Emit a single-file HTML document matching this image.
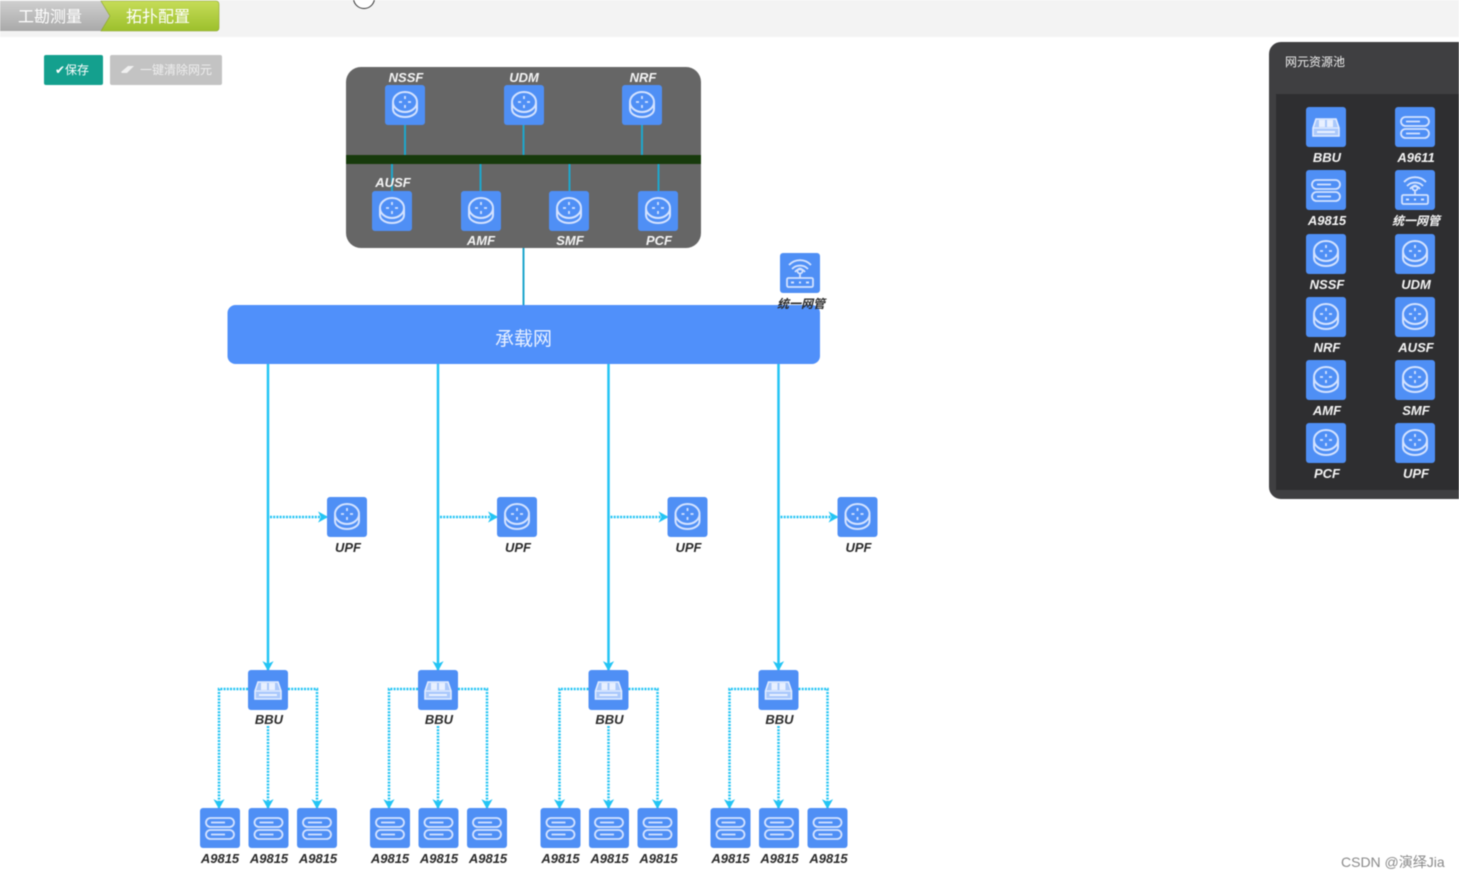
<!DOCTYPE html>
<html><head><meta charset="utf-8">
<style>
html,body{margin:0;padding:0;background:#fff;width:1459px;height:879px;overflow:hidden}
svg{display:block;font-family:"Liberation Sans","Noto Sans CJK SC",sans-serif;filter:blur(.45px)}
.l{font-size:13px;font-weight:bold;font-style:italic;text-anchor:middle}
.d{fill:#2a2a2a}
.w{fill:#f4f4f4}
.solid{stroke:#22c4f4;stroke-width:2.500;fill:none}
.dot{stroke:#22c4f4;stroke-width:2.500;stroke-dasharray:2 1.2;fill:none}
.thin{stroke:#1ea6cc;stroke-width:2;fill:none}
</style></head><body>
<svg width="1459" height="879" viewBox="0 0 1459 879" xmlns="http://www.w3.org/2000/svg">
<defs>
<linearGradient id="g1" x1="0" y1="0" x2="0" y2="1"><stop offset="0" stop-color="#cfcfcf"/><stop offset="1" stop-color="#a9a9a9"/></linearGradient>
<linearGradient id="g2" x1="0" y1="0" x2="0" y2="1"><stop offset="0" stop-color="#c6dc58"/><stop offset="1" stop-color="#9cc02c"/></linearGradient>
<symbol id="db" viewBox="0 0 40 40">
<rect width="40" height="40" rx="3" fill="#4f8ff5"/>
<g fill="none" stroke="#d3e2ff" stroke-width="2">
<ellipse cx="20" cy="17" rx="12" ry="10"/>
<path d="M8 18v6c0 5 6 8 12 8s12-3 12-8v-6"/>
</g>
<path d="M20 11v3M20 20v3M14 17h3M23 17h3" stroke="#d3e2ff" stroke-width="1.800"/>
</symbol>
<symbol id="srv" viewBox="0 0 40 40">
<rect width="40" height="40" rx="3" fill="#4f8ff5"/>
<g fill="none" stroke="#d3e2ff" stroke-width="1.800">
<rect x="6" y="10" width="28" height="9" rx="4.500"/>
<rect x="6" y="22" width="28" height="9" rx="4.500"/>
<path d="M11 14.500h14M11 26.500h14"/>
</g>
</symbol>
<symbol id="bbu" viewBox="0 0 40 40">
<rect width="40" height="40" rx="3" fill="#4f8ff5"/>
<path d="M10 12h20l3 9v8H7v-8z" fill="#a9c8fb" stroke="#e2ecff" stroke-width="1.600"/>
<path d="M13 13h6v7h-6zM21 13h6v7h-6z" fill="#e8f0ff"/>
<path d="M7 21h26" stroke="#e2ecff" stroke-width="1.300"/>
<path d="M11 25h18" stroke="#e8f0ff" stroke-width="2"/>
</symbol>
<symbol id="mg" viewBox="0 0 40 40">
<rect width="40" height="40" rx="3" fill="#4f8ff5"/>
<g fill="none" stroke="#d3e2ff" stroke-width="1.800">
<rect x="7" y="25" width="26" height="9" rx="1.500"/>
<path d="M12 16a11 11 0 0 1 16 0M9 12a15 15 0 0 1 22 0M15 19a6 6 0 0 1 10 0"/>
<circle cx="20" cy="18" r="2.500"/>
<path d="M20 20v5"/>
</g>
<path d="M11 29.500h3M26 29.500h3M19 29.500h2" stroke="#d3e2ff" stroke-width="2"/>
</symbol>
<marker id="a" viewBox="0 0 10 10" refX="8" refY="5" markerWidth="4.500" markerHeight="4.500" orient="auto">
<path d="M0 0L9 5L0 10L2.500 5z" fill="#22c4f4"/>
</marker>
<g id="cell">
<path class="solid" d="M41 0V306" marker-end="url(#a)"/>
<path class="dot" d="M43 153H100" marker-end="url(#a)"/>
<use href="#db" x="100" y="133" width="40" height="40"/>
<text class="l d" x="121" y="188">UPF</text>
<use href="#bbu" x="21" y="306" width="40" height="40"/>
<text class="l d" x="42" y="360">BBU</text>
<path class="dot" d="M21 325H-8V444" marker-end="url(#a)"/>
<path class="dot" d="M61 325H90V444" marker-end="url(#a)"/>
<path class="dot" d="M41 362V444" marker-end="url(#a)"/>
<use href="#srv" x="-27" y="444" width="40" height="40"/>
<use href="#srv" x="21.500" y="444" width="40" height="40"/>
<use href="#srv" x="70" y="444" width="40" height="40"/>
<text class="l d" x="-7" y="499">A9815</text>
<text class="l d" x="42" y="499">A9815</text>
<text class="l d" x="91" y="499">A9815</text>
</g>
</defs>

<rect x="0" y="0" width="1459" height="37" fill="#f3f3f3"/>
<circle cx="364" cy="-2" r="10.500" fill="#fff" stroke="#333" stroke-width="1"/>
<path d="M0 1H102L111 16L102 31H0z" fill="url(#g1)"/>
<path d="M101 1H216a3 3 0 0 1 3 3V28a3 3 0 0 1-3 3H101L110 16z" fill="url(#g2)" stroke="#8ba32c" stroke-width=".6"/>
<text x="18" y="22" font-size="16" fill="#fff">工勘测量</text>
<text x="126" y="22" font-size="16" fill="#fff">拓扑配置</text>

<rect x="44" y="55" width="59" height="30" rx="2" fill="#14a08e"/>
<text x="55" y="74" font-size="12" fill="#fff">✔保存</text>
<rect x="110" y="55" width="112" height="30" rx="2" fill="#c3c3c3"/>
<path d="M121 72l7-6h6l-7 7h-5z" fill="#f0f0f0"/>
<text x="140" y="74" font-size="12" fill="#eee">一键清除网元</text>

<rect x="346" y="67" width="355" height="181" rx="15" fill="#666"/>
<g class="thin">
<path d="M405 125V156M523.500 125V156M642 125V156M392 164V191M480.500 164V191M569.500 164V191M658.500 164V191M523.500 248V305"/>
</g>
<rect x="346" y="155" width="355" height="9" fill="#173a0c"/>
<use href="#db" x="385" y="85" width="40" height="40"/>
<use href="#db" x="504" y="85" width="40" height="40"/>
<use href="#db" x="622" y="85" width="40" height="40"/>
<use href="#db" x="372" y="191" width="40" height="40"/>
<use href="#db" x="461" y="191" width="40" height="40"/>
<use href="#db" x="549" y="191" width="40" height="40"/>
<use href="#db" x="638" y="191" width="40" height="40"/>
<text class="l w" x="406" y="82">NSSF</text>
<text class="l w" x="524" y="82">UDM</text>
<text class="l w" x="643" y="82">NRF</text>
<text class="l w" x="393" y="187">AUSF</text>
<text class="l w" x="481" y="245">AMF</text>
<text class="l w" x="570" y="245">SMF</text>
<text class="l w" x="659" y="245">PCF</text>

<rect x="227.500" y="305" width="592.500" height="59" rx="8" fill="#5090fa"/>
<text x="523.500" y="345" font-size="19" fill="#e8f0ff" text-anchor="middle">承载网</text>
<use href="#mg" x="780" y="253" width="40" height="40"/>
<text class="l d" x="801" y="308" style="font-size:12px">统一网管</text>

<use href="#cell" x="227" y="364"/>
<use href="#cell" x="397" y="364"/>
<use href="#cell" x="567.500" y="364"/>
<use href="#cell" x="737.500" y="364"/>

<path d="M1459 42H1281a12 12 0 0 0-12 12V487a12 12 0 0 0 12 12H1459z" fill="#3f3f41"/>
<rect x="1276" y="94" width="183" height="396" fill="#2e2e30"/>
<text x="1285" y="66" font-size="12" fill="#eee">网元资源池</text>
<use href="#bbu" x="1306" y="107" width="40" height="40"/>
<use href="#srv" x="1395" y="107" width="40" height="40"/>
<use href="#srv" x="1306" y="170" width="40" height="40"/>
<use href="#mg" x="1395" y="170" width="40" height="40"/>
<use href="#db" x="1306" y="234" width="40" height="40"/>
<use href="#db" x="1395" y="234" width="40" height="40"/>
<use href="#db" x="1306" y="297" width="40" height="40"/>
<use href="#db" x="1395" y="297" width="40" height="40"/>
<use href="#db" x="1306" y="360" width="40" height="40"/>
<use href="#db" x="1395" y="360" width="40" height="40"/>
<use href="#db" x="1306" y="423" width="40" height="40"/>
<use href="#db" x="1395" y="423" width="40" height="40"/>
<text class="l w" x="1327" y="162">BBU</text>
<text class="l w" x="1416" y="162">A9611</text>
<text class="l w" x="1327" y="225">A9815</text>
<text class="l w" x="1416" y="225" style="font-size:12px">统一网管</text>
<text class="l w" x="1327" y="289">NSSF</text>
<text class="l w" x="1416" y="289">UDM</text>
<text class="l w" x="1327" y="352">NRF</text>
<text class="l w" x="1416" y="352">AUSF</text>
<text class="l w" x="1327" y="415">AMF</text>
<text class="l w" x="1416" y="415">SMF</text>
<text class="l w" x="1327" y="478">PCF</text>
<text class="l w" x="1416" y="478">UPF</text>

<text x="1341" y="867" font-size="14" fill="#8a8a8a">CSDN @演绎Jia</text>
</svg>
</body></html>
